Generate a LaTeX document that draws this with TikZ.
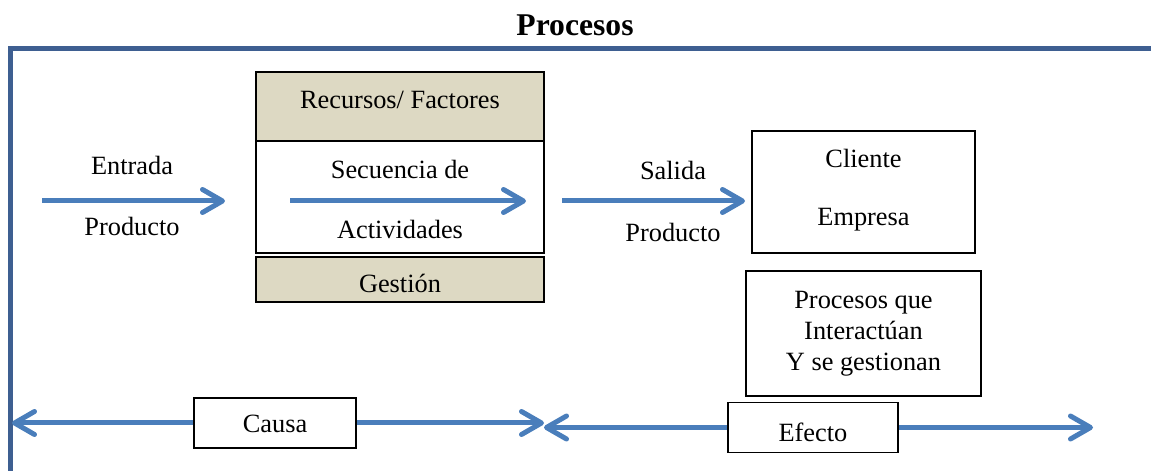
\documentclass[tikz,border=0pt]{standalone}
\usepackage{fontspec}
\setmainfont{Liberation Serif}
\usetikzlibrary{positioning,calc,arrows.meta}
\definecolor{colorFlecha}{RGB}{74,126,187}
\definecolor{colorMarco}{RGB}{62,95,145}
\definecolor{colorFondo}{RGB}{221,217,195}
\tikzset{
   every path/.style={>={Straight Barb[length=0.4cm,width=0.46cm,round]}},
   flecha/.style={->,color=colorFlecha,line width=0.1cm},
   marco/.style={color=colorMarco,line width=0.1cm},
   caja/.style={draw,line width=1.1pt,rectangle,inner sep=0pt},
   cajaf/.style={caja,fill=colorFondo},
   txt/.style={inner sep=1pt},
}

\begin{document}
\begin{tikzpicture}[font=\fontsize{15pt}{17.6pt}\selectfont]
        \useasboundingbox (0,0) rectangle (23.02,-9.42);
        \node[font=\fontsize{18pt}{21pt}\selectfont\bfseries] (tit) at (11.5,-0.5) {Procesos};
        \draw[marco] (0.21,-9.42) -- (0.21,-0.97) -- (23.02,-0.97);

        % entrada
        \node[txt] (ent)   at (2.64,-3.3)  {Entrada};
        \node[txt] (prodA) at (2.64,-4.52) {Producto};
        \coordinate (inA) at (0.84,-4.02);
        \coordinate (inB) at (4.5,-4.02);

        % proceso
        \node[cajaf,minimum width=5.76cm,minimum height=1.38cm] (recur) at (8,-2.13) {};
        \node[txt] (recTxt) at (8,-2.0) {Recursos/ Factores};
        \node[caja,minimum width=5.76cm,minimum height=2.24cm] (secu) at (8,-3.94) {};
        \node[txt] (secTxt) at (8,-3.38) {Secuencia de};
        \node[txt] (actTxt) at (8,-4.58) {Actividades};
        \coordinate (actA) at (5.8,-4.02);
        \coordinate (actB) at (10.52,-4.02);
        \node[cajaf,minimum width=5.76cm,minimum height=0.9cm] (gest) at (8,-5.59) {};
        \node[txt] (gesTxt) at (8,-5.66) {Gestión};

        % salida
        \node[txt] (sal)   at (13.46,-3.4)  {Salida};
        \node[txt] (prodB) at (13.46,-4.64) {Producto};
        \coordinate (outA) at (11.24,-4.02);
        \coordinate (outB) at (14.9,-4.02);

        \node[caja,minimum width=4.46cm,minimum height=2.44cm] (cli) at (17.27,-3.84) {};
        \node[txt] (cliTxt) at (17.27,-3.16) {Cliente};
        \node[txt] (empTxt) at (17.27,-4.4) {Empresa};
        \node[caja,minimum width=4.7cm,minimum height=2.5cm,align=center] (proc) at (17.27,-6.67)
             {Procesos que\\Interactúan\\Y se gestionan};

        % causa / efecto
        \node[caja,minimum width=3.24cm,minimum height=1cm] (causa) at (5.5,-8.46) {};
        \node[txt] (cauTxt) at (5.5,-8.48) {Causa};
        \node[caja,minimum width=3.4cm,minimum height=1cm] (efecto) at (16.26,-8.55) {};
        \node[txt] (efeTxt) at (16.26,-8.64) {Efecto};
        \coordinate (izq) at (0.24,-8.46);
        \coordinate (mid) at (10.88,-8.5);
        \coordinate (der) at (21.86,-8.52);

        \draw[flecha] (inA) -- (inB);
        \draw[flecha] (actA) -- (actB);
        \draw[flecha] (outA) -- (outB);

        \draw[flecha] (causa.west) -- (causa.west -| izq);
        \draw[flecha] (causa.east) -- (causa.east -| mid);
        \draw[flecha] (efecto.west) -- (efecto.west -| mid);
        \draw[flecha] (efecto.east) -- (efecto.east -| der);
    \end{tikzpicture}
\end{document}
